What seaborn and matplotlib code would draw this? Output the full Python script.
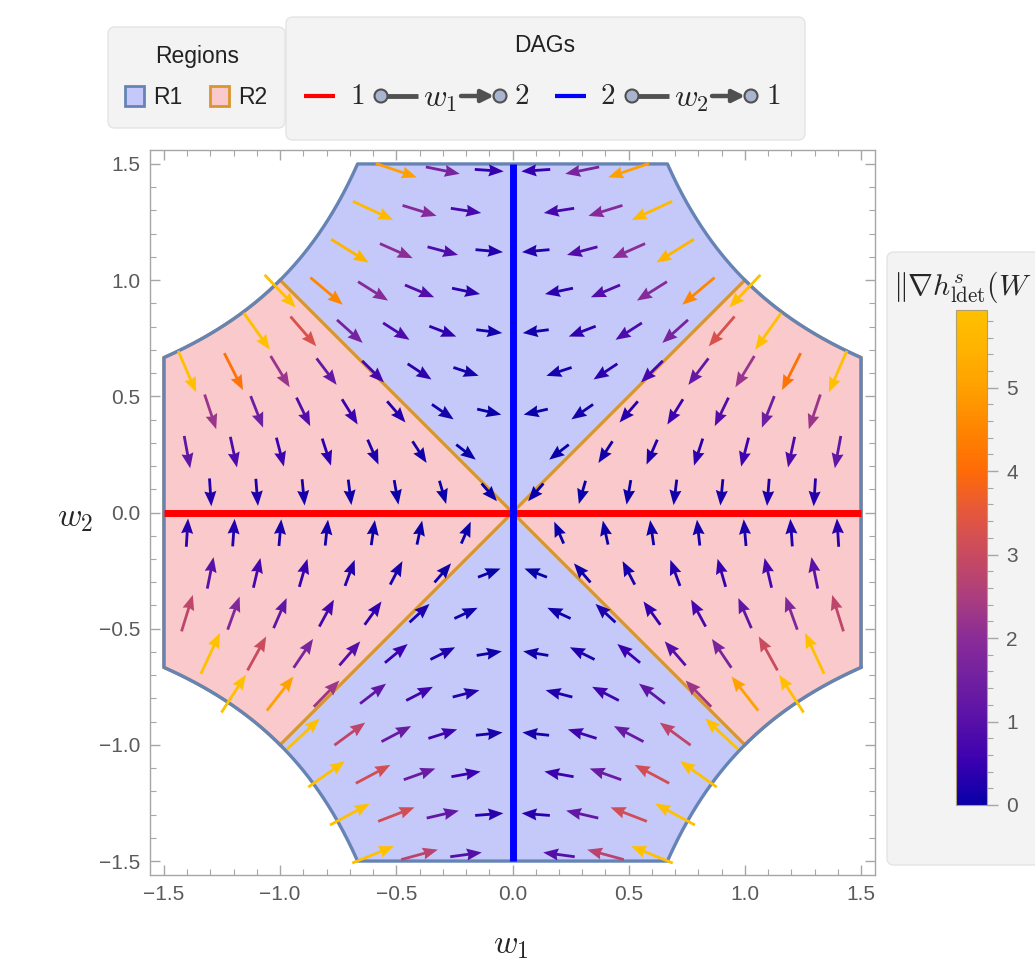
import numpy as np
import matplotlib
matplotlib.use("Agg")
import matplotlib.pyplot as plt
import seaborn as sns
from matplotlib.patches import FancyBboxPatch, Rectangle, Circle
from matplotlib.colors import Normalize, LinearSegmentedColormap
from matplotlib.cm import ScalarMappable
from matplotlib.ticker import MultipleLocator

# ---- problem definition: h(W) = -log det(sI - W*W) + d log s, W = [[0, w1], [w2, 0]] ----
S_PARAM = 1.0            # s of the log-det function
W_LIMIT = 1.5            # plotted range of w1 and w2
GRID_STEP = 0.2          # spacing of the hexagonal vector lattice
COLOR_MAX = 5.93         # upper end of the gradient-norm colour scale
CBAR_TICKS = [0, 1, 2, 3, 4, 5]
AXIS_TICKS = [-1.5, -1.0, -0.5, 0.0, 0.5, 1.0, 1.5]

# DAG lines: w2 = 0 (edge 1 -> 2) and w1 = 0 (edge 2 -> 1)
DAG1_W1 = [-1.5, 1.5]
DAG1_W2 = [0.0, 0.0]
DAG2_W1 = [0.0, 0.0]
DAG2_W2 = [-1.5, 1.5]

REGION_LABELS = ["R1", "R2"]
REGION_FILL = ["#c5c9f9", "#f9c9cb"]
REGION_EDGE = ["#6584b5", "#d9962c"]

# colour scale for the gradient norm (value, colour)
CMAP_STOPS = [(0.00, "#0800a8"), (0.50, "#3a00b0"), (1.00, "#5810a8"),
              (1.50, "#7020a0"), (2.00, "#8a2c98"), (2.50, "#ac3e7e"),
              (3.00, "#c84a60"), (3.50, "#e4573e"), (4.00, "#ff6a06"),
              (4.50, "#ff8400"), (5.00, "#ffa000"), (5.50, "#ffb400"),
              (5.93, "#ffc000")]

# colour bar heading as it appears at the right-hand edge of the panel
CBAR_TITLE = r"$\|\nabla h^{s}_{\mathrm{ldet}}(W$"

sns.set_style("ticks")
plt.rcParams["font.family"] = ["Liberation Sans", "DejaVu Sans"]
plt.rcParams["mathtext.fontset"] = "cm"

FIG_W, FIG_H = 1035, 965
fig = plt.figure(figsize=(FIG_W / 100, FIG_H / 100), dpi=100)

# background layer in pixel coordinates (legend panels)
bg = fig.add_axes([0, 0, 1, 1], zorder=0)
bg.set_xlim(0, FIG_W)
bg.set_ylim(FIG_H, 0)
bg.axis("off")

# main axes
AX_L, AX_R, AX_T, AX_B = 150, 875, 150, 875
ax = fig.add_axes([AX_L / FIG_W, 1 - AX_B / FIG_H, (AX_R - AX_L) / FIG_W, (AX_B - AX_T) / FIG_H], zorder=2)
pad = 0.02 * 2 * W_LIMIT
ax.set_xlim(-W_LIMIT - pad, W_LIMIT + pad)
ax.set_ylim(-W_LIMIT - pad, W_LIMIT + pad)

s = S_PARAM
a = s / W_LIMIT
r = np.sqrt(s)


def hyp(x0, x1, sign, n=80):
    xs = np.linspace(x0, x1, n)
    return list(zip(xs, sign * s / xs))


# region polygons
r1_top = [(0, 0)] + hyp(r, a, 1) + hyp(-a, -r, -1) + [(0, 0)]
r1_bot = [(x, -y) for x, y in r1_top]
r2_right = [(0, 0)] + hyp(r, W_LIMIT, 1) + hyp(W_LIMIT, r, -1) + [(0, 0)]
r2_left = [(-x, y) for x, y in r2_right]

for poly in (r1_top, r1_bot):
    p = np.array(poly)
    ax.fill(p[:, 0], p[:, 1], facecolor=REGION_FILL[0], edgecolor="none", zorder=1)
for poly in (r2_right, r2_left):
    p = np.array(poly)
    ax.fill(p[:, 0], p[:, 1], facecolor=REGION_FILL[1], edgecolor=REGION_EDGE[1],
            lw=2.3, joinstyle="miter", zorder=1.5)

# outer boundary |w1 w2| = s, |w1|, |w2| <= W_LIMIT
boundary = ([(W_LIMIT, -a)] + hyp(W_LIMIT, a, 1) + hyp(-a, -W_LIMIT, -1)
            + hyp(-W_LIMIT, -a, 1) + hyp(a, W_LIMIT, -1) + [(W_LIMIT, -a)])
b = np.array(boundary)
ax.plot(b[:, 0], b[:, 1], color=REGION_EDGE[0], lw=2.4, zorder=2)

# DAG lines
ax.plot(DAG1_W1, DAG1_W2, color="#ff0000", lw=5, solid_capstyle="butt", zorder=3)
ax.plot(DAG2_W1, DAG2_W2, color="#0000ff", lw=5, solid_capstyle="butt", zorder=3.1)

# hexagonal lattice of vector positions
row_h = GRID_STEP * np.sqrt(3) / 2
px_, py_ = [], []
for m in range(-17, 18, 2):
    yv = m * row_h / 2
    off = GRID_STEP / 2 if m % 4 == 1 else 0.0
    for k in range(-8, 9):
        xv = off + GRID_STEP * k
        if abs(xv) < W_LIMIT - 1e-9 and abs(xv * yv) < s:
            px_.append(xv)
            py_.append(yv)
P1 = np.array(px_)
P2 = np.array(py_)

den = s ** 2 - P1 ** 2 * P2 ** 2
G1 = 2 * P1 * P2 ** 2 / den
G2 = 2 * P2 * P1 ** 2 / den
mag = np.hypot(G1, G2)
keep = mag > 1e-12
P1, P2, G1, G2, mag = P1[keep], P2[keep], G1[keep], G2[keep], mag[keep]

# arrow length in pixels grows with the norm, then converted to data units
data_per_px = (2 * (W_LIMIT + pad)) / (AX_R - AX_L)
len_px = 23 + 22 * np.sqrt(np.clip(mag / COLOR_MAX, 0, 1))
U = -G1 / mag * len_px * data_per_px
V = -G2 / mag * len_px * data_per_px

pos = [v / COLOR_MAX for v, _ in CMAP_STOPS]
cmap = LinearSegmentedColormap.from_list("gradnorm", list(zip(pos, [c for _, c in CMAP_STOPS])))
norm = Normalize(0, COLOR_MAX, clip=True)

ax.quiver(P1, P2, U, V, mag, cmap=cmap, norm=norm, angles="xy", scale_units="xy", scale=1,
          pivot="middle", units="dots", width=2.8, headwidth=4.3, headlength=5.4,
          headaxislength=4.9, zorder=5)

# frame and ticks
for sp in ax.spines.values():
    sp.set_color("#a6a6a6")
    sp.set_linewidth(1.0)
ax.set_xticks(AXIS_TICKS)
ax.set_yticks(AXIS_TICKS)
ax.xaxis.set_minor_locator(MultipleLocator(0.1))
ax.yaxis.set_minor_locator(MultipleLocator(0.1))
ax.tick_params(which="both", direction="in", top=True, right=True, color="#a6a6a6",
               labelcolor="#5a5a5a", labelsize=15, pad=7)
ax.tick_params(which="major", length=7, width=1)
ax.tick_params(which="minor", length=4, width=0.8)
ax.set_xticklabels([f"{t:.1f}".replace("-", "\u2212") for t in AXIS_TICKS])
ax.set_yticklabels([f"{t:.1f}".replace("-", "\u2212") for t in AXIS_TICKS])

fig.text(75 / FIG_W, 1 - 518 / FIG_H, r"$w_2$", fontsize=24, ha="center", va="center")
fig.text(511 / FIG_W, 1 - 945 / FIG_H, r"$w_1$", fontsize=24, ha="center", va="center")

# colour bar panel
bg.add_patch(FancyBboxPatch((887, 252), 170, 613, boxstyle="round,pad=0,rounding_size=7",
                            fc="#f3f3f3", ec="#e4e4e4", lw=1))
CB_L, CB_R, CB_T, CB_B = 956, 987, 310, 805
cax = fig.add_axes([CB_L / FIG_W, 1 - CB_B / FIG_H, (CB_R - CB_L) / FIG_W, (CB_B - CB_T) / FIG_H], zorder=2)
cb = fig.colorbar(ScalarMappable(norm=norm, cmap=cmap), cax=cax)
cb.set_ticks(CBAR_TICKS)
cb.ax.yaxis.set_minor_locator(MultipleLocator(0.2))
cb.ax.tick_params(which="both", color="#a6a6a6", labelcolor="#5a5a5a", labelsize=15)
cb.ax.tick_params(which="major", length=8, width=1, pad=6)
cb.ax.tick_params(which="minor", length=4, width=0.8)
cb.outline.set_edgecolor("#b0a070")
cb.outline.set_linewidth(0.8)
bg.text(893, 287, CBAR_TITLE, fontsize=21.5, ha="left", va="center")

# legend: regions
bg.add_patch(FancyBboxPatch((108, 27), 177, 101, boxstyle="round,pad=0,rounding_size=7",
                            fc="#f3f3f3", ec="#e4e4e4", lw=1))
bg.text(197, 57, "Regions", fontsize=16.5, ha="center", va="center", color="#222222")
for (xs, lbl, fc, ec) in [(124, REGION_LABELS[0], REGION_FILL[0], REGION_EDGE[0]),
                          (209, REGION_LABELS[1], REGION_FILL[1], REGION_EDGE[1])]:
    bg.add_patch(Rectangle((xs + 1, 86), 19, 20, fc=fc, ec=ec, lw=2))
    bg.text(xs + 29, 97, lbl, fontsize=16.5, ha="left", va="center", color="#222222")

# legend: DAGs
bg.add_patch(FancyBboxPatch((286, 17), 519, 123, boxstyle="round,pad=0,rounding_size=7",
                            fc="#f3f3f3", ec="#e4e4e4", lw=1))
bg.text(545, 46, "DAGs", fontsize=16.5, ha="center", va="center", color="#222222")

EDGE_GREY = "#505050"
NODE_FILL = "#a9b4d0"


def dag_entry(x0, color, src, wlab, dst):
    y = 96
    bg.plot([x0, x0 + 31], [y, y], color=color, lw=3, solid_capstyle="butt")
    bg.text(x0 + 53, y, f"${src}$", fontsize=21, ha="center", va="center")
    n1 = x0 + 77
    n2 = x0 + 196
    bg.plot([n1 + 6, n1 + 37], [y, y], color=EDGE_GREY, lw=3.5, solid_capstyle="butt")
    bg.text(n1 + 59, y + 3, f"${wlab}$", fontsize=23, ha="center", va="center")
    bg.annotate("", xy=(n2 - 6, y), xytext=(n1 + 80, y),
                arrowprops=dict(arrowstyle="-|>", color=EDGE_GREY, lw=3.2,
                                mutation_scale=18, shrinkA=0, shrinkB=0))
    for nx in (n1, n2):
        bg.add_patch(Circle((nx, y), 6.5, fc=NODE_FILL, ec=EDGE_GREY, lw=1.5, zorder=3))
    bg.text(n2 + 22, y, f"${dst}$", fontsize=21, ha="center", va="center")


dag_entry(304, "#ff0000", "1", "w_1", "2")
dag_entry(555, "#0000ff", "2", "w_2", "1")

fig.savefig("out.png", dpi=100)
